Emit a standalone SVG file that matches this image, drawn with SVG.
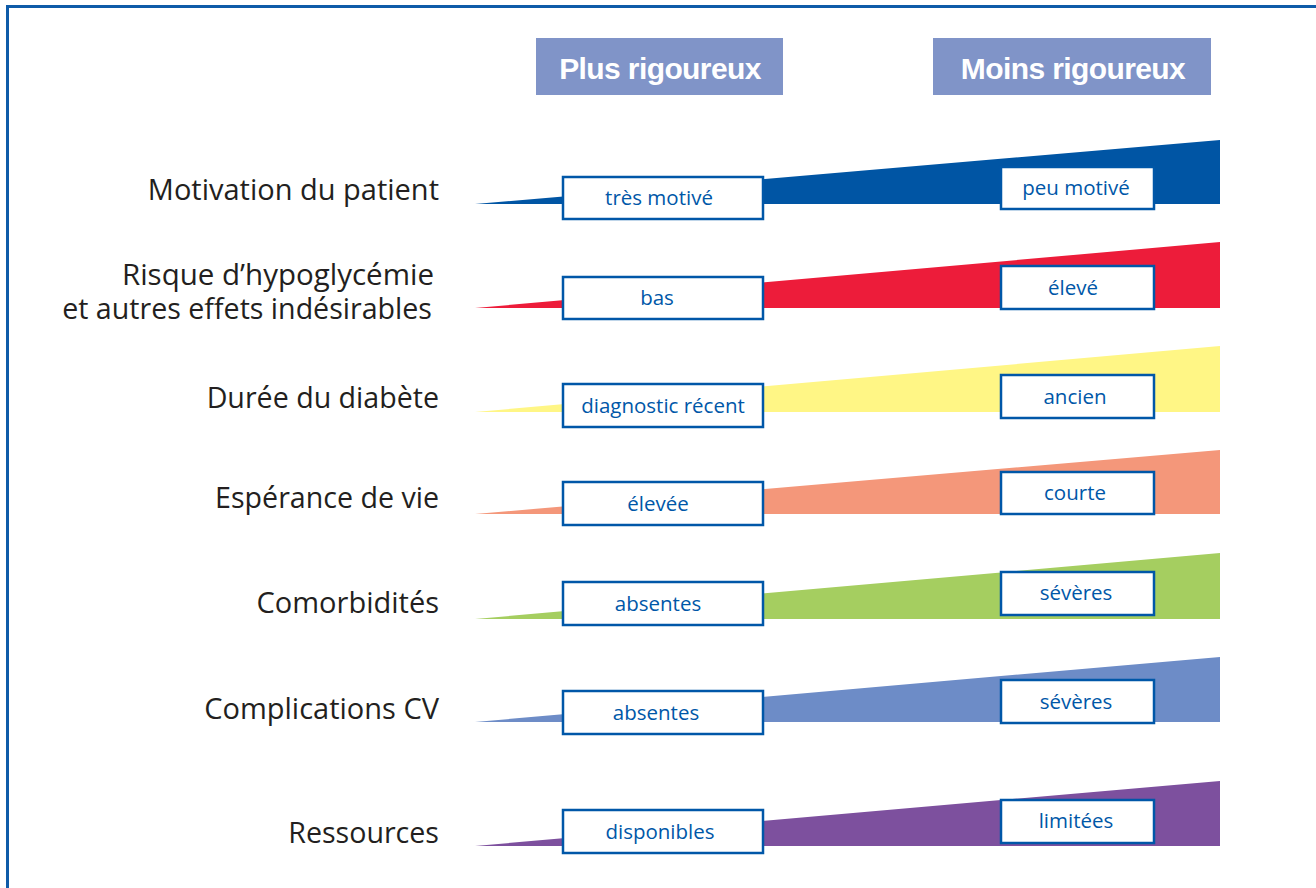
<svg xmlns="http://www.w3.org/2000/svg" width="1316" height="888" viewBox="0 0 1316 888">
<style>
.frame{fill:none;stroke:#0f5ba8;stroke-width:3}
.hdr{fill:#8094c8}
.hdrt{font-family:"Liberation Sans",Arial,sans-serif;font-weight:bold;font-size:30px;fill:#fff;text-anchor:middle;letter-spacing:-0.6px}
.lbl{font-family:"Open Sans","Liberation Sans",sans-serif;font-size:28.6px;fill:#231f20;text-anchor:end}
.lg{font-size:29px}
.box{fill:#fff;stroke:#0057a8;stroke-width:2.5}
.bt{font-family:"Open Sans","Liberation Sans",sans-serif;font-size:20.5px;fill:#0057a8;text-anchor:middle}
</style>
<rect width="1316" height="888" fill="#fff"/>
<rect class="frame" x="7.5" y="6.5" width="1330" height="900"/>

<g id="header-plus">
<rect class="hdr" x="536" y="38" width="247" height="57"/>
<text class="hdrt" x="660" y="79">Plus rigoureux</text>
</g>
<g id="header-moins">
<rect class="hdr" x="933" y="38" width="278" height="57"/>
<text class="hdrt" x="1073" y="79">Moins rigoureux</text>
</g>

<g id="wedges">
<polygon fill="#0055a4" points="475,204 1220,140 1220,204"/>
<polygon fill="#ed1c3a" points="475,308 1220,242 1220,308"/>
<polygon fill="#fff685" points="475,412 1220,346 1220,412"/>
<polygon fill="#f4977a" points="475,514 1220,450 1220,514"/>
<polygon fill="#a5ce60" points="475,619 1220,553 1220,619"/>
<polygon fill="#6d8cc7" points="475,722 1220,657 1220,722"/>
<polygon fill="#7d509e" points="475,846 1220,781 1220,846"/>
</g>

<g id="row-motivation">
<text class="lbl lg" x="439" y="200">Motivation du patient</text>
<g id="motivation-low"><rect class="box" x="563" y="177" width="200" height="42"/><text class="bt" x="659" y="205">très motivé</text></g>
<g id="motivation-high"><rect class="box" x="1001" y="167" width="153" height="42"/><text class="bt" x="1076" y="195">peu motivé</text></g>
</g>

<g id="row-risque">
<text class="lbl"><tspan x="434" y="285" font-size="29.5">Risque d’hypoglycémie</tspan><tspan x="432" y="319">et autres effets indésirables</tspan></text>
<g id="risque-low"><rect class="box" x="563" y="277" width="200" height="42"/><text class="bt" x="657" y="305">bas</text></g>
<g id="risque-high"><rect class="box" x="1001" y="266" width="153" height="43"/><text class="bt" x="1073" y="295">élevé</text></g>
</g>

<g id="row-duree">
<text class="lbl" x="439" y="408">Durée du diabète</text>
<g id="duree-low"><rect class="box" x="563" y="384" width="200" height="43"/><text class="bt" x="663" y="413">diagnostic récent</text></g>
<g id="duree-high"><rect class="box" x="1001" y="375" width="153" height="43"/><text class="bt" x="1075" y="404">ancien</text></g>
</g>

<g id="row-esperance">
<text class="lbl" x="439" y="508">Espérance de vie</text>
<g id="esperance-low"><rect class="box" x="563" y="482" width="200" height="43"/><text class="bt" x="658" y="511">élevée</text></g>
<g id="esperance-high"><rect class="box" x="1001" y="472" width="153" height="42"/><text class="bt" x="1075" y="500">courte</text></g>
</g>

<g id="row-comorbidites">
<text class="lbl lg" x="439" y="613">Comorbidités</text>
<g id="comorbidites-low"><rect class="box" x="563" y="582" width="200" height="43"/><text class="bt" x="658" y="611">absentes</text></g>
<g id="comorbidites-high"><rect class="box" x="1001" y="572" width="153" height="43"/><text class="bt" x="1076" y="600">sévères</text></g>
</g>

<g id="row-complications">
<text class="lbl lg" x="439" y="719">Complications CV</text>
<g id="complications-low"><rect class="box" x="563" y="691" width="200" height="43"/><text class="bt" x="656" y="720">absentes</text></g>
<g id="complications-high"><rect class="box" x="1001" y="680" width="153" height="43"/><text class="bt" x="1076" y="709">sévères</text></g>
</g>

<g id="row-ressources">
<text class="lbl" x="439" y="843" font-size="28">Ressources</text>
<g id="ressources-low"><rect class="box" x="563" y="810" width="200" height="43"/><text class="bt" x="660" y="839">disponibles</text></g>
<g id="ressources-high"><rect class="box" x="1001" y="800" width="153" height="43"/><text class="bt" x="1076" y="828">limitées</text></g>
</g>
</svg>
